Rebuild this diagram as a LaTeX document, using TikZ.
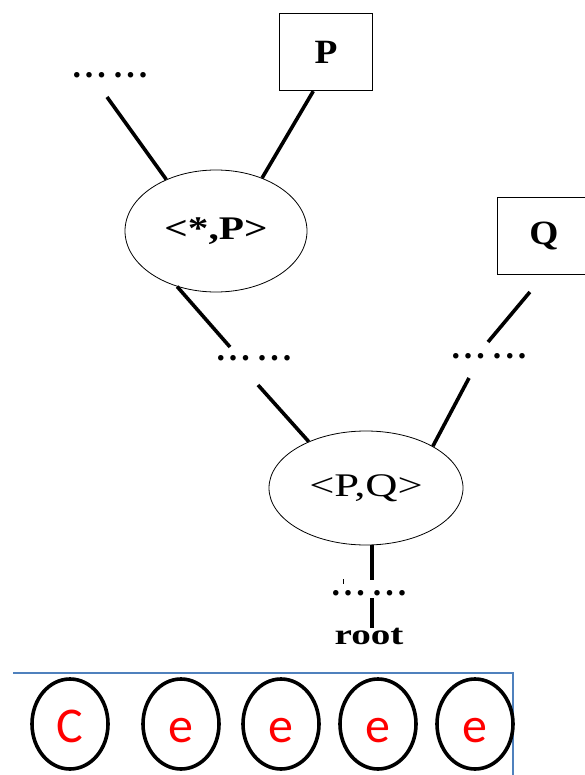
\documentclass[tikz,border=0pt]{standalone}
\usepackage{fontspec}
\setmainfont{Liberation Serif}
\newfontfamily\wideA[FakeStretch=1.25]{Liberation Serif}
\newfontfamily\wideQ[FakeStretch=1.35]{Liberation Serif}
\newfontfamily\wideB[FakeStretch=1.1]{Liberation Serif}
\newfontfamily\wideR[FakeStretch=1.35]{Liberation Serif}
\newfontfamily\calib{Carlito}
\usetikzlibrary{shapes.geometric}
\definecolor{officeblue}{HTML}{4F81BD}
\newcommand{\sixdots}{.\kern4pt.\kern4pt.\kern8pt.\kern4pt.\kern4pt.}
\begin{document}
\begin{tikzpicture}[x=1pt,y=-1pt,
  boxnode/.style={draw, line width=1.3pt, minimum width=93pt, minimum height=77pt, inner sep=0pt},
  ovalnode/.style={draw, ellipse, line width=0.8pt, inner sep=0pt},
  dotsnode/.style={inner sep=0pt, font=\fontsize{34}{34}\selectfont\bfseries},
  conn/.style={line width=3.6pt},
  cell/.style={draw, ellipse, line width=3.6pt, minimum width=76pt, minimum height=90pt, inner sep=0pt,
    text=red, font=\calib\fontsize{50}{50}\selectfont, text height=36pt, text depth=0pt},
  bline/.style={draw=officeblue, line width=1.4pt}]
\useasboundingbox (0,0) rectangle (584,775);
\fill[white] (0,0) rectangle (584,775);

% boxes
\node[boxnode, font=\wideB\fontsize{34}{34}\selectfont\bfseries] (P) at (326,52) {P};
\node[boxnode, font=\wideB\fontsize{34}{34}\selectfont\bfseries] (Q) at (544,236) {Q};

% ellipses
\node[ovalnode, minimum width=182pt, minimum height=122pt, font=\wideA\fontsize{33}{33}\selectfont\bfseries] (e1) at (216,231) {<*,P>};
\node[ovalnode, minimum width=194pt, minimum height=114pt, font=\wideQ\fontsize{33}{33}\selectfont] (e2) at (366,488) {<P,Q>};

% dots
\node[dotsnode] (d1) at (110,75) {\sixdots};
\node[dotsnode] (d2) at (254,358) {\sixdots};
\node[dotsnode] (d3) at (489,356) {\sixdots};
\node[dotsnode] (d4) at (369,593) {\sixdots};
\node[font=\wideR\fontsize{29}{29}\selectfont\bfseries, inner sep=0pt] (root) at (369,636) {root};

% free ends
\coordinate (c1) at (107,97);
\coordinate (c3) at (230,347);
\coordinate (c4) at (258,385);
\coordinate (c6) at (488,342);
\coordinate (c7) at (469,378);
\coordinate (c8) at (372,580);
\coordinate (c9) at (372,598);

% connectors
\draw[conn] (c1) -- (e1.134);
\draw[conn] (P.-108) -- (e1.49);
\draw[conn] (e1.235) -- (c3);
\draw[conn] (c4) -- (e2.141);
\draw[conn, shorten <=22pt] (Q.south) -- (c6);
\draw[conn] (c7) -- (e2.32);
\draw[conn] (c8 |- e2.south) -- (c8);
\draw[conn] (c9) -- (c9 |- root.north);
\draw[line width=1pt] (343,579) -- (343,584);

% bottom strip
\draw[bline] (13,673) -- (513,673) -- (513,776);
\node[cell] (b1) at (70,724) {C};
\node[cell] (b2) at (181,724) {e};
\node[cell] (b3) at (281,724) {e};
\node[cell] (b4) at (378,724) {e};
\node[cell] (b5) at (475,724) {e};
\end{tikzpicture}
\end{document}
